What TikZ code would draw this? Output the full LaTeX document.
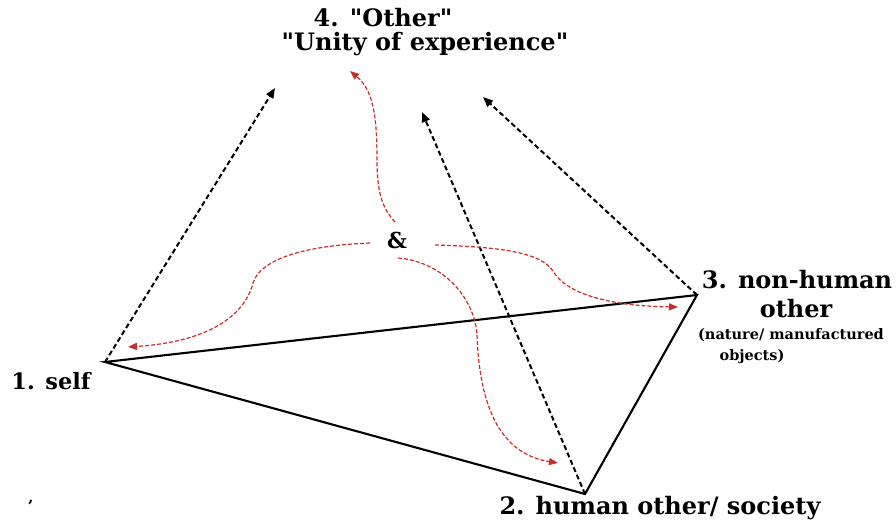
\documentclass[tikz,border=0pt]{standalone}
\usepackage{fontspec}
\setmainfont{DejaVu Serif}[Ligatures=TeXOff]
\usetikzlibrary{arrows.meta}
\begin{document}
\begin{tikzpicture}[x=1pt,y=-1pt,
  edge/.style={line width=2.1pt,black},
  dashedarrow/.style={line width=2pt,black,dash pattern=on 5pt off 3pt,-{Triangle[length=10pt,width=8pt]}},
  redarrow/.style={line width=1.2pt,color=redc,dash pattern=on 4pt off 2pt,-{Triangle[length=9pt,width=7pt]}},
  lbl/.style={font=\bfseries\fontsize{24}{28}\selectfont,inner sep=0pt},
  small/.style={font=\bfseries\fontsize{14.5}{17}\selectfont,inner sep=0pt}]
\definecolor{redc}{RGB}{200,45,40}
\useasboundingbox (0,0) rectangle (896,525);
% vertices
\coordinate (self) at (105,362);
\coordinate (human) at (585,494);
\coordinate (nonhuman) at (697,295);
\coordinate (t1) at (275,88);
\coordinate (t2) at (422,112);
\coordinate (t3) at (483,97);
% labels
\node[lbl] (other) at (383,18) {4. "Other"};
\node[lbl] (unity) at (425,44) {"Unity of experience"};
\node[font=\bfseries\fontsize{22.5}{26}\selectfont,inner sep=0pt] (lself) at (51,381) {1. self};
\node[lbl] (lnon) at (797,280) {3. non-human};
\node[lbl] (lother) at (796,309) {other};
\node[small] (lnat) at (791,335) {(nature/ manufactured};
\node[small] (lobj) at (752,357) {objects)};
\node[lbl] (lhum) at (660,508) {2. human other/ society};
\node[font=\bfseries\fontsize{22}{26}\selectfont,inner sep=0pt] (amp) at (397,240) {\&};
\node[small] (mark) at (31,503) {,};
% triangle
\draw[edge] (self) -- (nonhuman) -- (human) -- cycle;
% dashed arrows
\draw[dashedarrow] (self) -- (t1);
\draw[dashedarrow] (human) -- (t2);
\draw[dashedarrow] (nonhuman) -- (t3);
% red curved arrows
\coordinate (a1) at (395,222);
\coordinate (a2) at (370,243);
\coordinate (a3) at (435,245);
\coordinate (a4) at (398,258);
\draw[redarrow] (a1) .. controls (382,208) and (377,192) .. (377,160) .. controls (377,115) and (373,90) .. (350,71);
\draw[redarrow] (a2) .. controls (318,245) and (262,255) .. (253,283) .. controls (244,318) and (205,342) .. (128,347);
\draw[redarrow] (a3) .. controls (500,247) and (540,252) .. (553,271) .. controls (566,294) and (610,306) .. (678,307);
\draw[redarrow] (a4) .. controls (445,262) and (475,300) .. (477,335) .. controls (480,420) and (508,455) .. (558,463);
\end{tikzpicture}
\end{document}
